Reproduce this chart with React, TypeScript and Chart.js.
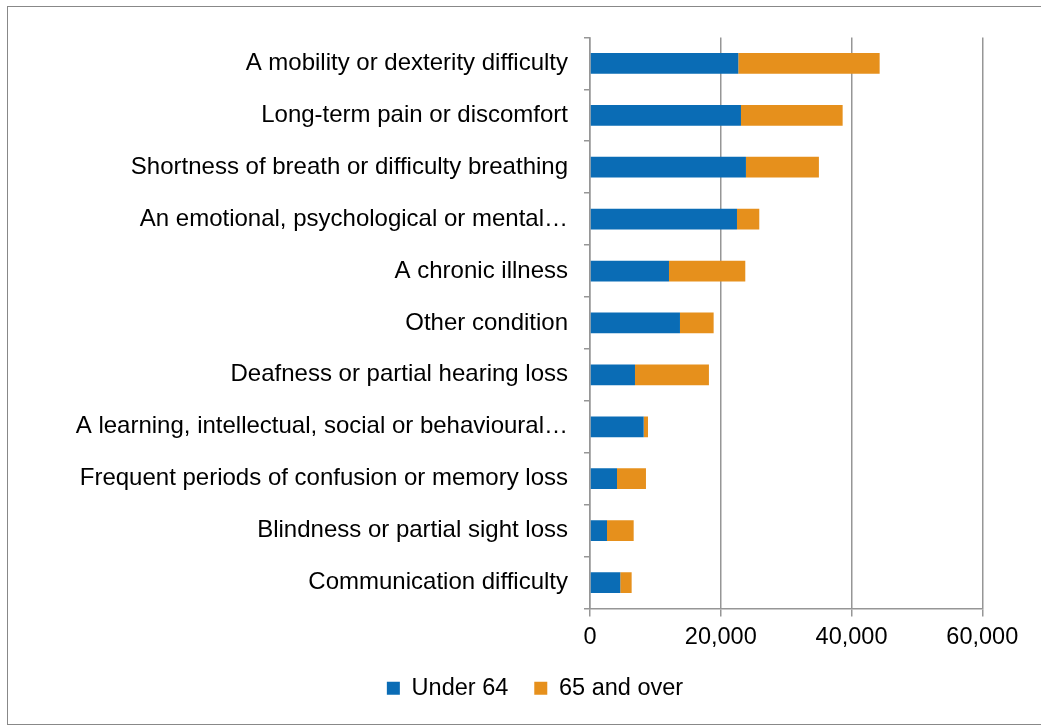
import React, { useEffect, useRef } from "react";
import { Chart, registerables } from "chart.js";

Chart.register(...registerables);

const categories: string[] = [
  "A mobility or dexterity difficulty",
  "Long-term pain or discomfort",
  "Shortness of breath or difficulty breathing",
  "An emotional, psychological or mental…",
  "A chronic illness",
  "Other condition",
  "Deafness or partial hearing loss",
  "A learning, intellectual, social or behavioural…",
  "Frequent periods of confusion or memory loss",
  "Blindness or partial sight loss",
  "Communication difficulty",
];

const under64: number[] = [22680, 23090, 23850, 22480, 12080, 13760, 6880, 8210, 4130, 2600, 4630];
const over65: number[] = [21620, 15550, 11160, 3410, 11670, 5150, 11310, 660, 4430, 4080, 1740];

const xTicks: number[] = [0, 20000, 40000, 60000];

const FONT = "'Liberation Sans', Arial, sans-serif";

export default function App() {
  const ref = useRef<HTMLCanvasElement | null>(null);

  useEffect(() => {
    if (!ref.current) return;
    const gridColor = "#969696";
    const chart = new Chart(ref.current, {
      type: "bar",
      data: {
        labels: categories,
        datasets: [
          {
            label: "Under 64",
            data: under64,
            backgroundColor: "#0A6CB5",
            borderWidth: 0,
            categoryPercentage: 0.8,
            barPercentage: 0.5,
          },
          {
            label: "65 and over",
            data: over65,
            backgroundColor: "#E6901C",
            borderWidth: 0,
            categoryPercentage: 0.8,
            barPercentage: 0.5,
          },
        ],
      },
      options: {
        indexAxis: "y",
        responsive: false,
        animation: false,
        layout: { padding: { top: 26, left: 21, right: 0, bottom: 14 } },
        plugins: {
          tooltip: { enabled: false },
          legend: {
            position: "bottom",
            labels: {
              boxWidth: 13,
              boxHeight: 13,
              padding: 26,
              color: "#000",
              font: { family: FONT, size: 23.5 },
            },
          },
        },
        scales: {
          x: {
            stacked: true,
            min: 0,
            max: 60000,
            afterBuildTicks: (scale: any) => {
              scale.ticks = xTicks.map((v) => ({ value: v }));
            },
            afterFit: (scale: any) => {
              scale.height = 42;
            },
            grid: {
              color: gridColor,
              lineWidth: 1.5,
              drawTicks: true,
              tickLength: 8,
            },
            border: { color: gridColor, width: 1.5 },
            ticks: {
              color: "#000",
              padding: 7,
              maxRotation: 0,
              font: { family: FONT, size: 23.5 },
              callback: (v: any) => Number(v).toLocaleString("en-US"),
            },
          },
          y: {
            stacked: true,
            afterFit: (scale: any) => {
              scale.width = 561;
            },
            grid: {
              display: true,
              drawOnChartArea: false,
              drawTicks: true,
              tickLength: 6,
              color: gridColor,
              lineWidth: 1.5,
            },
            border: { color: gridColor, width: 1.5 },
            ticks: {
              color: "#000",
              padding: 16,
              autoSkip: false,
              font: { family: FONT, size: 24 },
            },
          },
          yRight: {
            type: "category",
            position: "right",
            display: true,
            afterFit: (scale: any) => {
              scale.width = 58.7;
            },
            grid: { display: false },
            border: { display: false },
            ticks: { display: false },
          },
        },
      },
    });
    return () => chart.destroy();
  }, []);

  return (
    <div
      style={{
        position: "absolute",
        left: 7,
        top: 6,
        width: 1034,
        height: 719,
        boxSizing: "border-box",
        borderTop: "1px solid #888",
        borderLeft: "1px solid #888",
        borderBottom: "1px solid #888",
        background: "#fff",
      }}
    >
      <canvas ref={ref} width={1033} height={717} style={{ display: "block" }} />
    </div>
  );
}
